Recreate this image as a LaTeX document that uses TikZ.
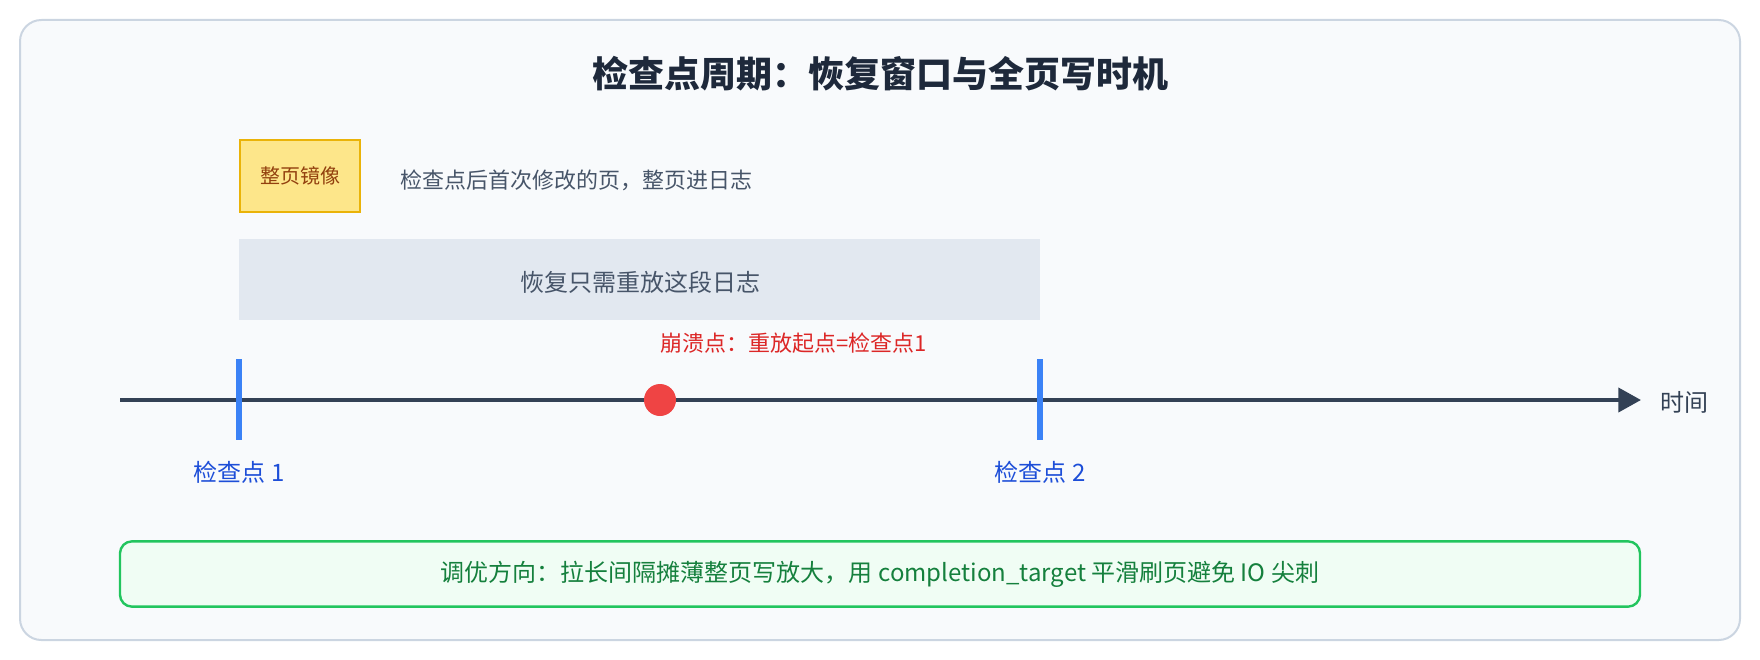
\documentclass[tikz,border=0pt]{standalone}
\usepackage{fontspec}
\setmainfont{Noto Sans CJK SC}
\usetikzlibrary{arrows.meta}
\definecolor{frame}{HTML}{CBD5E1}
\definecolor{panel}{HTML}{F8FAFC}
\definecolor{ink}{HTML}{1E293B}
\definecolor{slate}{HTML}{475569}
\definecolor{axis}{HTML}{334155}
\definecolor{ckblue}{HTML}{3B82F6}
\definecolor{cklabel}{HTML}{1D4ED8}
\definecolor{crash}{HTML}{EF4444}
\definecolor{crashtxt}{HTML}{DC2626}
\definecolor{fpfill}{HTML}{FDE68A}
\definecolor{fpdraw}{HTML}{EAB308}
\definecolor{fptxt}{HTML}{92400E}
\definecolor{band}{HTML}{E2E8F0}
\definecolor{tipfill}{HTML}{F0FDF4}
\definecolor{tipdraw}{HTML}{22C55E}
\definecolor{tiptxt}{HTML}{15803D}

\begin{document}
\begin{tikzpicture}[x=0.75pt,y=-0.75pt,
	txt/.style={inner sep=0pt,font=\fontsize{16.5pt}{20pt}\selectfont},
	big/.style={inner sep=0pt,font=\fontsize{18pt}{22pt}\selectfont},
	cktick/.style={draw=ckblue,line width=4.5pt},
	cklbl/.style={big,text=cklabel}]
		\useasboundingbox (0,0) rectangle (1760,660);
		\draw[draw=frame,fill=panel,line width=1.5pt,rounded corners=16pt] (20,20) rectangle (1740,640);
		\node[inner sep=0pt,text=ink,font=\fontsize{27pt}{32pt}\selectfont\bfseries] (title) at (880,74) {检查点周期：恢复窗口与全页写时机};
	% full page image
		\node[draw=fpdraw,fill=fpfill,line width=1.5pt,minimum width=90pt,minimum height=54pt,inner sep=0pt,text=fptxt,font=\fontsize{15pt}{18pt}\selectfont] (fpi) at (300,176) {整页镜像};
		\node[txt,text=slate,anchor=west] (fpinote) at (400,180) {检查点后首次修改的页，整页进日志};
	% replay window
		\fill[band] (239,239) rectangle (1040,320);
		\node[big,text=slate] (replay) at (640,282) {恢复只需重放这段日志};
	% time axis
		\coordinate (t0) at (120,400);
		\coordinate (t1) at (1641,400);
		\draw[draw=axis,line width=3pt,-{Triangle[length=17pt,width=18pt]}] (t0) -- (t1);
		\node[big,text=axis,anchor=west] (time) at (1660,402) {时间};
		\coordinate (c1top) at (239,359);
		\coordinate (c1bot) at (239,440);
		\coordinate (c2top) at (1040,359);
		\coordinate (c2bot) at (1040,440);
		\draw[cktick] (c1top) -- (c1bot);
		\draw[cktick] (c2top) -- (c2bot);
		\node[cklbl] (ck1) at (239,472) {检查点 1};
		\node[cklbl] (ck2) at (1040,472) {检查点 2};
		\fill[crash] (660,400) circle (16);
		\node[txt,text=crashtxt,anchor=west] (crashlbl) at (660,343) {崩溃点：重放起点=检查点1};
	% tuning hint
		\node[draw=tipdraw,fill=tipfill,line width=1.8pt,rounded corners=9pt,minimum width=1140pt,minimum height=49pt,inner sep=0pt,text=tiptxt,font=\fontsize{18pt}{22pt}\selectfont] (tip) at (880,574) {调优方向：拉长间隔摊薄整页写放大，用 completion\_target 平滑刷页避免 IO 尖刺};
	\end{tikzpicture}
\end{document}
